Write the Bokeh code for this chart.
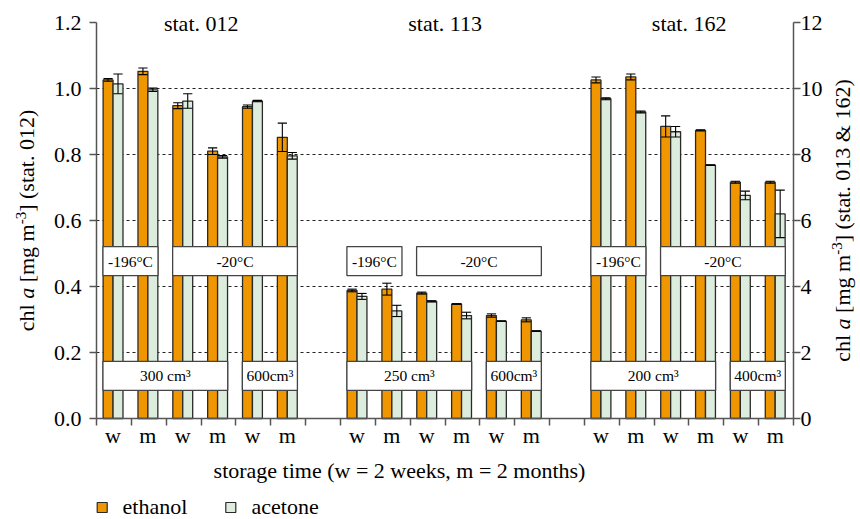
import math
from bokeh.plotting import figure
from bokeh.models import Range1d, LinearAxis, FixedTicker, NumeralTickFormatter, Label
from bokeh.core.properties import value
from bokeh.embed import file_html
from bokeh.resources import INLINE

# ---------------- data ----------------
stations = ["stat. 012", "stat. 113", "stat. 162"]
storage = ["w", "m", "w", "m", "w", "m"]
slots012 = [0, 1, 2, 3, 4, 5]
slots113 = [7, 8, 9, 10, 11, 12]
slots162 = [14, 15, 16, 17, 18, 19]

# stat. 012 (left axis)
eth012 = [1.026, 1.052, 0.948, 0.810, 0.945, 0.852]
eth012_err = [0.004, 0.010, 0.009, 0.010, 0.005, 0.043]
ace012 = [1.014, 0.996, 0.962, 0.793, 0.962, 0.796]
ace012_err = [0.030, 0.005, 0.022, 0.004, 0.002, 0.010]

# stat. 113 (right axis)
eth113 = [3.88, 3.92, 3.80, 3.47, 3.12, 2.99]
eth113_err = [0.04, 0.18, 0.03, 0.01, 0.05, 0.06]
ace113 = [3.70, 3.26, 3.55, 3.12, 2.95, 2.65]
ace113_err = [0.09, 0.17, 0.02, 0.10, 0.01, 0.01]

# stat. 162 (right axis)
eth162 = [10.26, 10.35, 8.85, 8.73, 7.16, 7.16]
eth162_err = [0.09, 0.09, 0.32, 0.02, 0.03, 0.03]
ace162 = [9.69, 9.29, 8.69, 7.68, 6.76, 6.20]
ace162_err = [0.03, 0.03, 0.16, 0.01, 0.13, 0.72]

temp_labels = ["-196°C", "-20°C", "-196°C", "-20°C", "-196°C", "-20°C"]
temp_first = [0, 2, 7, 9, 14, 16]
temp_last = [1, 5, 8, 12, 15, 19]

vol_labels = ["300 cm³", "600cm³", "250 cm³", "600cm³", "200 cm³", "400cm³"]
vol_first = [0, 4, 7, 11, 14, 18]
vol_last = [3, 5, 10, 12, 17, 19]

left_ticks = [0.0, 0.2, 0.4, 0.6, 0.8, 1.0, 1.2]
grid_ticks = [0.2, 0.4, 0.6, 0.8, 1.0]
right_ticks = [0, 2, 4, 6, 8, 10, 12]

x_title = "storage time (w = 2 weeks, m = 2 months)"
legend_labels = ["ethanol", "acetone"]

# ---------------- style / geometry ----------------
FONT = "Liberation Serif"
FS = "22px"
ETH_COL = "#F09600"
ACE_COL = "#DDEDDD"
EDGE = "#2a2a2a"
AXIS_COL = "#555555"
BW = 0.285
W_FIG, H_FIG = 860, 519
AX_L, AX_R, AX_T, AX_B = 96, 793, 22, 418     # pixel positions of the axes
X0, X1 = -0.475, 19.525
PX_PER_X = (AX_R - AX_L) / (X1 - X0)
PX_PER_Y = (AX_B - AX_T) / 1.2
XMIN = X0 - AX_L / PX_PER_X
XMAX = X1 + (W_FIG - AX_R) / PX_PER_X
YMIN = -(H_FIG - AX_B) / PX_PER_Y
YMAX = 1.2 + AX_T / PX_PER_Y
MID = 0.305   # em offset of the "middle" baseline above the alphabetic baseline


def X(px):
    return XMIN + px / PX_PER_X


def Y(py):
    return YMAX - py / PX_PER_Y


p = figure(width=W_FIG, height=H_FIG, x_range=Range1d(XMIN, XMAX), y_range=Range1d(YMIN, YMAX),
           output_backend="svg", toolbar_location=None,
           min_border_left=0, min_border_right=0, min_border_top=0, min_border_bottom=0)
p.extra_y_ranges = {"right": Range1d(YMIN * 10, YMAX * 10)}
p.outline_line_color = None
p.background_fill_color = "white"
p.border_fill_color = "white"
p.xgrid.visible = False
p.ygrid.visible = False


def style_axis(ax):
    ax.axis_line_color = AXIS_COL
    ax.axis_line_width = 1.5
    ax.major_tick_line_color = AXIS_COL
    ax.major_tick_line_width = 1.5
    ax.minor_tick_line_color = AXIS_COL
    ax.minor_tick_line_width = 1.5
    ax.major_label_text_font = FONT
    ax.major_label_text_font_size = FS
    ax.major_label_text_color = "black"


# dashed horizontal grid (behind bars)
p.segment(x0=[X0] * len(grid_ticks), y0=grid_ticks, x1=[X1] * len(grid_ticks), y1=grid_ticks,
          line_color="#222222", line_dash="3 3", line_width=1)

# left axis
ly = p.yaxis[0]
style_axis(ly)
ly.fixed_location = X0
ly.bounds = (0, 1.2)
ly.ticker = FixedTicker(ticks=left_ticks)
ly.formatter = NumeralTickFormatter(format="0.0")
ly.major_tick_out = 7
ly.major_tick_in = 0
ly.minor_tick_out = 0
ly.minor_tick_in = 0
ly.major_label_standoff = 8

# right axis
ry = LinearAxis(y_range_name="right", ticker=FixedTicker(ticks=right_ticks))
style_axis(ry)
ry.fixed_location = X1
ry.bounds = (0, 12)
ry.major_tick_out = 7
ry.major_tick_in = 0
ry.minor_tick_out = 0
ry.minor_tick_in = 0
ry.major_label_standoff = 0
p.add_layout(ry, "right")

# bottom axis
all_slots = slots012 + slots113 + slots162
bx = p.xaxis[0]
style_axis(bx)
bx.fixed_location = 0
bx.bounds = (X0 - 0.001, X1 + 0.001)
bx.ticker = FixedTicker(ticks=all_slots, minor_ticks=[k + X0 for k in range(21)])
bx.major_label_overrides = {s: storage[i % 6] for i, s in enumerate(all_slots)}
bx.major_tick_out = 0
bx.major_tick_in = 0
bx.minor_tick_out = 7
bx.minor_tick_in = 0
bx.major_label_standoff = -3

# x-axis title (baseline at 476px, centred at 399px like the reference)
p.add_layout(Label(x=X(399), y=Y(476.5 - MID * 22), text=x_title, text_font=FONT,
                   text_font_size=FS, text_align="center", text_baseline="middle",
                   text_color="black"))

# bars + error bars
groups = [
    (slots012, eth012, eth012_err, ace012, ace012_err, "default"),
    (slots113, eth113, eth113_err, ace113, ace113_err, "right"),
    (slots162, eth162, eth162_err, ace162, ace162_err, "right"),
]
for slots, eth, eth_e, ace, ace_e, rng in groups:
    xe = [s - BW / 2 for s in slots]
    xa = [s + BW / 2 for s in slots]
    p.vbar(x=xe, top=eth, bottom=0, width=BW, fill_color=ETH_COL, line_color=EDGE,
           line_width=1.3, y_range_name=rng)
    p.vbar(x=xa, top=ace, bottom=0, width=BW, fill_color=ACE_COL, line_color=EDGE,
           line_width=1.3, y_range_name=rng)
    for xs, vals, errs in ((xe, eth, eth_e), (xa, ace, ace_e)):
        lo = [v - e for v, e in zip(vals, errs)]
        hi = [v + e for v, e in zip(vals, errs)]
        p.segment(x0=xs, y0=lo, x1=xs, y1=hi, line_color="black", line_width=1.1, y_range_name=rng)
        cl = [x - BW / 2 + 0.01 for x in xs]
        cr = [x + BW / 2 - 0.01 for x in xs]
        p.segment(x0=cl, y0=lo, x1=cr, y1=lo, line_color="black", line_width=1.1, y_range_name=rng)
        p.segment(x0=cl, y0=hi, x1=cr, y1=hi, line_color="black", line_width=1.1, y_range_name=rng)


# label boxes
def boxes(labels, first, last, bottom, top):
    lefts = [a - 0.29 for a in first]
    rights = [b + 0.29 for b in last]
    p.quad(left=lefts, right=rights, bottom=bottom, top=top, fill_color="white",
           line_color="#444444", line_width=1.3)
    p.text(x=[(l + r) / 2 for l, r in zip(lefts, rights)], y=[(bottom + top) / 2] * len(labels),
           text=labels, text_font=value(FONT), text_font_size="15.5px",
           text_align="center", text_baseline="middle", text_color="black")


boxes(temp_labels, temp_first, temp_last, 0.433, 0.521)
boxes(vol_labels, vol_first, vol_last, 0.085, 0.173)

# station titles (baseline at y=30px)
for name, slots in zip(stations, (slots012, slots113, slots162)):
    p.add_layout(Label(x=(slots[0] + slots[-1]) / 2 + 0.03, y=Y(29.5 - MID * 22), text=name,
                       text_font=FONT, text_font_size=FS, text_align="center",
                       text_baseline="middle", text_color="black"))

# rotated axis titles built from pieces (italic "a", superscript "-3")
WID = {' ': 250, 'c': 444, 'h': 500, 'l': 278, 'a': 444, '[': 333, ']': 333, 'm': 778,
       'g': 500, '-': 333, '3': 500, '(': 333, ')': 333, 's': 389, 't': 278, '.': 250,
       '0': 500, '1': 500, '2': 500, '6': 500, '&': 778}


def twidth(s, size, italic=False):
    return sum((500 if (italic and c == 'a') else WID.get(c, 500)) for c in s) / 1000.0 * size


def vertical_title(tail, base_px):
    pieces = [("chl ", 22, "normal", 0), ("a", 22, "italic", 0), (" [mg m", 22, "normal", 0),
              ("-3", 15, "normal", 8), (tail, 22, "normal", 0)]
    total = sum(twidth(t, s, st == "italic") for t, s, st, _ in pieces)
    cur = 0.6 - total / 2 / PX_PER_Y
    for t, s, st, rise in pieces:
        lead = len(t) - len(t.lstrip(" "))
        cur += twidth(" " * lead, s) / PX_PER_Y
        core = t.strip(" ")
        mid_px = base_px - rise - MID * s
        p.add_layout(Label(x=X(mid_px), y=cur, text=core, angle=math.pi / 2,
                           text_font=FONT, text_font_size=f"{s}px", text_font_style=st,
                           text_align="left", text_baseline="middle", text_color="black"))
        cur += twidth(t.lstrip(" "), s, st == "italic") / PX_PER_Y


vertical_title("] (stat. 012)", 33)
vertical_title("] (stat. 013 & 162)", 849)

# legend (drawn as squares + texts below the axis title), text baseline at 513px
leg_sq_px = [101.7, 230.3]
leg_tx_px = [122.0, 251.0]
p.rect(x=[X(v) for v in leg_sq_px], y=[Y(507)] * 2, width=10 / PX_PER_X, height=10 / PX_PER_Y,
       fill_color=[ETH_COL, ACE_COL], line_color=EDGE, line_width=1.2)
p.text(x=[X(v) for v in leg_tx_px], y=[Y(513 - MID * 22)] * 2, text=legend_labels,
       text_font=value(FONT), text_font_size=FS, text_align="left",
       text_baseline="middle", text_color="black")

open("out.html", "w").write(file_html(p, INLINE))
